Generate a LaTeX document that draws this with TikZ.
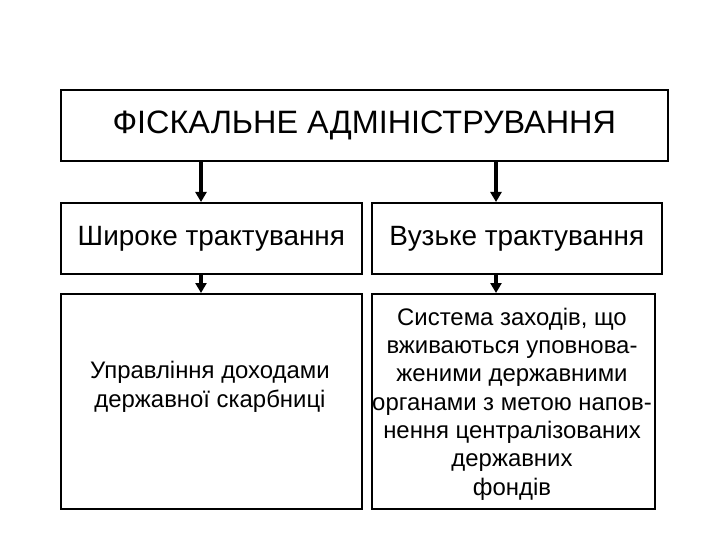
\documentclass[tikz,border=0pt]{standalone}
\usepackage{fontspec}
\setmainfont{Liberation Sans}
\usetikzlibrary{arrows.meta}

\tikzset{
  box/.style={draw, line width=1.6bp, inner sep=0pt, anchor=north west},
  arr/.style={line width=3.2bp, -{Triangle[width=11bp,length=10bp]}},
  txt/.style={align=center, inner sep=0pt, font=\fontsize{24}{28.5}\selectfont},
}

\begin{document}
\begin{tikzpicture}[x=1bp,y=-1bp]
  \useasboundingbox (0,0) rectangle (720,540);
  % top box
  \node[box, minimum width=607bp, minimum height=71bp,
        font=\fontsize{32.5}{36}\selectfont] (fisc) at (60,89) {ФІСКАЛЬНЕ АДМІНІСТРУВАННЯ};
  %
  \node[box, minimum width=301bp, minimum height=71bp,
        font=\fontsize{28}{32}\selectfont] (wide) at (60,202) {Широке трактування};
  \node[box, minimum width=290bp, minimum height=71bp,
        font=\fontsize{28}{32}\selectfont] (narrow) at (371,202) {Вузьке трактування};
  %
  \node[box, minimum width=301bp, minimum height=215bp] (widebox) at (60,293) {};
  \node[box, minimum width=283bp, minimum height=215bp] (narrowbox) at (371,293) {};
  \node[txt] (widetxt) at (210,387) {Управління доходами\\державної скарбниці};
  \node[txt] (narrowtxt) at (512,404) {Система заходів, що\\вживаються уповнова-\\женими державними\\органами з метою напов-\\нення централізованих\\державних\\фондів};
  %
  \coordinate (lx) at (201,0);
  \coordinate (rx) at (496,0);
  \draw[arr] (fisc.south -| lx) -- (wide.north -| lx);
  \draw[arr] (fisc.south -| rx) -- (narrow.north -| rx);
  \draw[arr] (wide.south -| lx) -- (widebox.north -| lx);
  \draw[arr] (narrow.south -| rx) -- (narrowbox.north -| rx);
\end{tikzpicture}
\end{document}
